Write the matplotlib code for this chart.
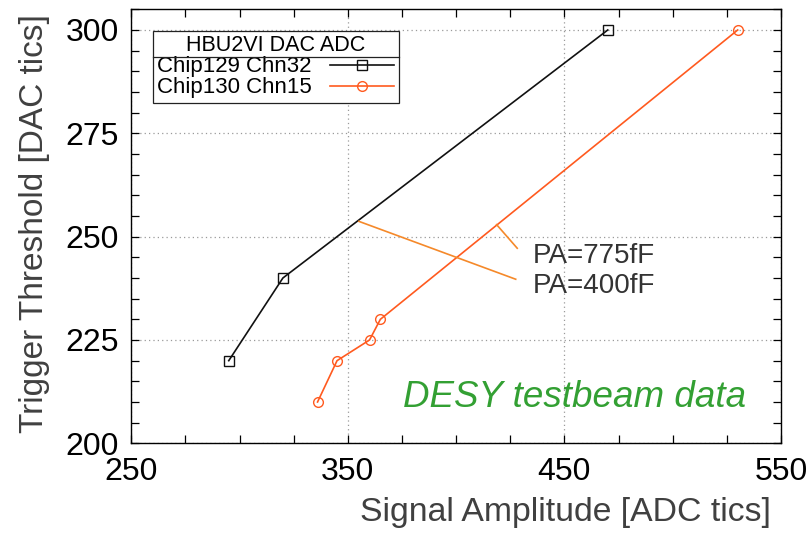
import numpy as np
import matplotlib
matplotlib.use('Agg')
import matplotlib.pyplot as plt
from matplotlib.lines import Line2D
from matplotlib.ticker import MultipleLocator

plt.rcParams['font.family'] = ['Liberation Sans', 'DejaVu Sans']

# Chip129 Chn32 (PA=400fF)
adc_129 = [295, 320, 470]
dac_129 = [220, 240, 300]
# Chip130 Chn15 (PA=775fF)
adc_130 = [336, 345, 360, 365, 530]
dac_130 = [210, 220, 225, 230, 300]

labels = ['Chip129 Chn32', 'Chip130 Chn15']
legend_title = 'HBU2VI DAC ADC'
x_ticks = [250, 350, 450, 550]
y_ticks = [200, 225, 250, 275, 300]

fig = plt.figure(figsize=(8.10, 5.36), dpi=100)
ax = fig.add_axes([0.1621, 0.1729, 0.9642 - 0.1621, 0.9826 - 0.1729])

ax.plot(adc_129, dac_129, color='#111111', lw=1.2, marker='s', ms=6.5,
        mfc='none', mec='#111111', mew=1.0, label=labels[0])
ax.plot(adc_130, dac_130, color='#ff5a1f', lw=1.2, marker='o', ms=7,
        mfc='none', mec='#ff5a1f', mew=1.0, label=labels[1])

ax.set_xlim(250, 550)
ax.set_ylim(200, 305)
ax.set_xticks(x_ticks)
ax.set_yticks(y_ticks)
ax.xaxis.set_minor_locator(MultipleLocator(25))
ax.yaxis.set_minor_locator(MultipleLocator(5))
ax.tick_params(which='both', direction='in', top=True, right=True,
               length=6, width=0.9, labelsize=23, colors='black')
ax.tick_params(axis='x', pad=10)
ax.tick_params(axis='y', pad=9)
for s in ax.spines.values():
    s.set_linewidth(1.0)
ax.grid(True, which='major', color='#9a9a9a', lw=0.9, linestyle=(0, (1, 2.5)))

# annotations
ac = '#f5892a'
ax.plot([355.1, 427.5], [253.7, 239.7], color=ac, lw=1.2)
ax.plot([418.7, 428.2], [252.9, 247.2], color=ac, lw=1.2)
ax.text(435.3, 245.2, 'PA=775fF', fontsize=20, color='#333333', va='center', ha='left')
ax.text(435.3, 238.1, 'PA=400fF', fontsize=20, color='#333333', va='center', ha='left')
ax.text(375.4, 211, 'DESY testbeam data', fontsize=26.5, style='italic',
        color='#33a033', va='center', ha='left')

fig.text(771 / 810, 1 - 512 / 536, 'Signal Amplitude [ADC tics]', fontsize=24.3,
         color='#404040', ha='right', va='center')
fig.text(35 / 810, 1 - 224 / 536, 'Trigger Threshold [DAC tics]', fontsize=24,
         color='#404040', ha='center', va='center', rotation=90)

leg = ax.legend(loc='upper left', bbox_to_anchor=(0.033, 0.9507), borderaxespad=0,
                title=legend_title, title_fontsize=15.5, fontsize=16,
                markerfirst=False, fancybox=False, edgecolor='#222222',
                framealpha=1, handlelength=2.9, labelspacing=0.0,
                borderpad=0.2, handletextpad=0.8, handleheight=0.5)
leg.get_frame().set_linewidth(0.9)
leg._legend_box.sep = 0

fig.canvas.draw()
lb = leg.get_window_extent()
tb = leg.get_title().get_window_extent()
ysep = tb.y0 - 0.5
inv = fig.transFigure.inverted()
p0 = inv.transform((lb.x0, ysep))
p1 = inv.transform((lb.x1, ysep))
fig.add_artist(Line2D([p0[0], p1[0]], [p0[1], p1[1]], color='#222222', lw=0.9,
                      transform=fig.transFigure, zorder=10))

fig.savefig('out.png', dpi=100)
